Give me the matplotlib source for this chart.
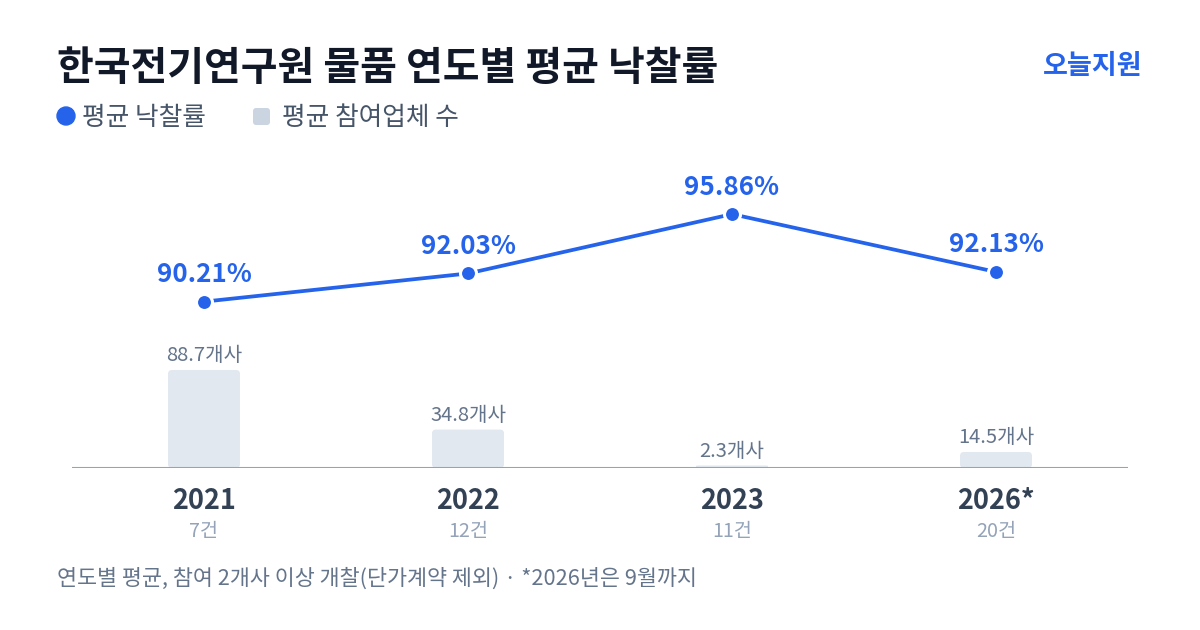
import matplotlib
matplotlib.use("Agg")
import matplotlib.pyplot as plt
from matplotlib.patches import FancyBboxPatch, Circle

plt.rcParams['font.family'] = ['Noto Sans CJK KR', 'DejaVu Sans']

# data
years = ["2021", "2022", "2023", "2026*"]
bid_counts = ["7건", "12건", "11건", "20건"]
avg_rate = [90.21, 92.03, 95.86, 92.13]
avg_bidders = [88.7, 34.8, 2.3, 14.5]

BLUE = "#2563EB"
BAR = "#E2E8F0"
AXIS = "#94A3B8"

W, H = 1200, 630
fig = plt.figure(figsize=(W / 100, H / 100), dpi=100)
fig.patch.set_facecolor("white")

# overlay in pixel coords for title / legend / footnote
ov = fig.add_axes([0, 0, 1, 1])
ov.set_xlim(0, W)
ov.set_ylim(H, 0)
ov.axis("off")

ov.text(57, 68, "한국전기연구원 물품 연도별 평균 낙찰률", fontsize=28.8, fontweight="bold",
        color="#111827", ha="left", va="center")
ov.text(1142, 66, "오늘지원", fontsize=19.5, fontweight="bold", color=BLUE,
        ha="right", va="center")

ov.add_patch(Circle((66, 116), 9, color=BLUE))
ov.text(82, 118, "평균 낙찰률", fontsize=18.5, color="#475569", ha="left", va="center")
ov.add_patch(FancyBboxPatch((253, 108), 17, 17, boxstyle="round,pad=0,rounding_size=3",
                            color="#CBD5E1", lw=0))
ov.text(282, 118, "평균 참여업체 수", fontsize=18.5, color="#475569", ha="left", va="center")

ov.text(57, 579, "연도별 평균, 참여 2개사 이상 개찰(단가계약 제외) · *2026년은 9월까지",
        fontsize=15.7, color="#64748B", ha="left", va="center")

# main chart: bars on ax, rate line on ax2
x0, x1, base, top = 72, 1128, 468, 150
ax = fig.add_axes([x0 / W, 1 - base / H, (x1 - x0) / W, (base - top) / H])
ax.set_xlim(-0.5, len(years) - 0.5)
ax.set_ylim(0, 287.8)
ax.axis("off")

px_per_x = (x1 - x0) / len(years)
px_per_y = (base - top) / 287.8
bw = 72 / px_per_x
for i, v in enumerate(avg_bidders):
    r = min(4, v * px_per_y / 2)
    ax.add_patch(FancyBboxPatch((i - bw / 2, 0), bw, v,
                                boxstyle=f"round,pad=0,rounding_size={r / px_per_x}",
                                mutation_aspect=px_per_x / px_per_y,
                                color=BAR, lw=0))
    ax.annotate(f"{v}개사", xy=(i, v), xytext=(0, 14), textcoords="offset pixels",
                ha="center", va="center", fontsize=14.5, color="#64748B")
    ax.annotate(years[i], xy=(i, 0), xytext=(0, -33), textcoords="offset pixels",
                ha="center", va="center", fontsize=19.5, fontweight="bold", color="#334155")
    ax.annotate(bid_counts[i], xy=(i, 0), xytext=(0, -63), textcoords="offset pixels",
                ha="center", va="center", fontsize=14.2, color=AXIS)

ax.axhline(0, color=AXIS, lw=1.5, zorder=3)

ax2 = ax.twinx()
ax2.set_ylim(79.47, 100.0)
ax2.axis("off")
ax2.plot(range(len(years)), avg_rate, color=BLUE, lw=2.7, marker="o", ms=11.5,
         mfc=BLUE, mec="white", mew=2.2, solid_capstyle="round", zorder=4)
for i, v in enumerate(avg_rate):
    ax2.annotate(f"{v:.2f}%", xy=(i, v), xytext=(0, 27), textcoords="offset pixels",
                 ha="center", va="center", fontsize=18.7, fontweight="bold", color=BLUE)

fig.savefig("out.png", dpi=100, facecolor="white")
